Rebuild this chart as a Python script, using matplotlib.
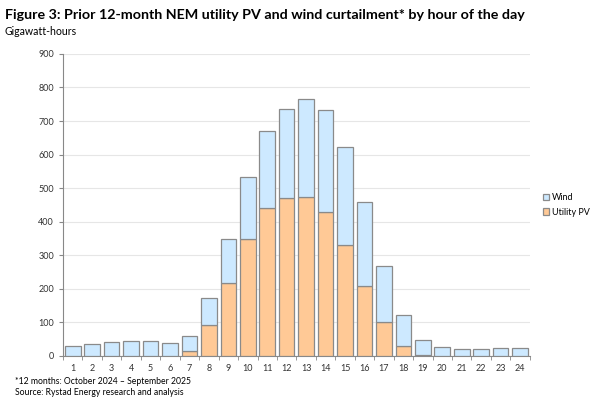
import numpy as np
import matplotlib.pyplot as plt

plt.rcParams['font.family'] = ['Lato', 'DejaVu Sans']

hours = np.arange(1, 25)
utility_pv = [0, 0, 0, 0, 0, 0, 15, 92, 218, 350, 440, 472, 475, 428, 330, 208, 100, 30, 4, 0, 0, 0, 0, 0]
total = [29, 35, 41, 45, 45, 39, 60, 172, 350, 532, 670, 737, 765, 733, 623, 460, 268, 122, 48, 27, 21, 20, 25, 25]
wind = [t - p for t, p in zip(total, utility_pv)]

pv_col = '#FFC996'
wind_col = '#CDE9FF'
edge = '#8a8a8a'

fig = plt.figure(figsize=(6, 4.05), dpi=100)
ax = fig.add_axes([0.105, 0.121, 0.778, 0.746])

ax.bar(hours, utility_pv, width=0.8, color=pv_col, edgecolor=edge, linewidth=0.9, label='Utility PV', zorder=3)
ax.bar(hours, wind, bottom=utility_pv, width=0.8, color=wind_col, edgecolor=edge, linewidth=0.9, label='Wind', zorder=3)

ax.set_xlim(0.5, 24.5)
ax.set_ylim(0, 900)
ax.set_yticks(np.arange(0, 901, 100))
ax.set_xticks(hours)
ax.set_xticks(np.arange(0.5, 25, 1), minor=True)
ax.tick_params(axis='x', which='major', length=0, labelsize=6.5, colors='#333333', pad=6)
ax.tick_params(axis='x', which='minor', length=3, color='#888888')
ax.tick_params(axis='y', length=3, color='#888888', labelsize=6.5, labelcolor='#333333')
ax.grid(axis='y', color='#e6e6e6', linewidth=0.8, zorder=0)
for s in ['top', 'right']:
    ax.spines[s].set_visible(False)
ax.spines['left'].set_color('#888888')
ax.spines['bottom'].set_color('#888888')

h, l = ax.get_legend_handles_labels()
ax.legend(h[::-1], l[::-1], loc='center left', bbox_to_anchor=(1.01, 0.5), frameon=False,
          fontsize=6.5, handlelength=0.7, handleheight=0.7, handletextpad=0.3, labelspacing=0.6)

fig.text(0.008, 0.963, 'Figure 3: Prior 12-month NEM utility PV and wind curtailment* by hour of the day',
         fontsize=10.3, fontweight='bold', va='center', ha='left')
fig.text(0.008, 0.922, 'Gigawatt-hours', fontsize=7.6, va='center', ha='left')
fig.text(0.025, 0.058, '*12 months: October 2024 \u2013 September 2025', fontsize=6.2, va='center', ha='left')
fig.text(0.025, 0.031, 'Source: Rystad Energy research and analysis', fontsize=6.2, va='center', ha='left')

fig.savefig('out.png', dpi=100)
